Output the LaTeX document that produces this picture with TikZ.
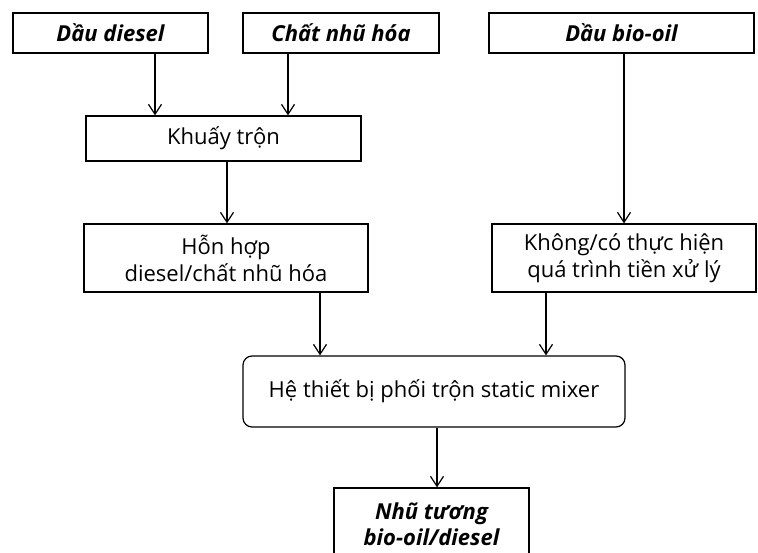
\documentclass[tikz,border=0pt]{standalone}
\usepackage{fontspec}
\setmainfont{Open Sans}
\usetikzlibrary{arrows.meta}
\begin{document}
\begin{tikzpicture}[x=1pt,y=-1pt,
  box/.style={draw,line width=1.2pt,inner sep=0pt,align=center,
    font=\fontsize{22}{27}\selectfont},
  ibox/.style={box,font=\fontsize{22}{26}\selectfont\bfseries\itshape},
  arr/.style={-{Straight Barb[length=10pt,width=13pt]},line width=1.2pt}]
\clip (0,0) rectangle (758,553);
\node[ibox,minimum width=195,minimum height=40] (diesel) at (110.5,33) {Dầu diesel};
\node[ibox,minimum width=196,minimum height=40] (chat) at (341,33) {Chất nhũ hóa};
\node[ibox,minimum width=265,minimum height=40] (bio) at (621.5,33) {Dầu bio-oil};
\node[box,minimum width=275,minimum height=45] (khuay) at (223.5,138.5) {Khuấy trộn};
\node[box,minimum width=284,minimum height=68] (hon) at (226,258) {Hỗn hợp\\diesel/chất nhũ hóa};
\node[box,minimum width=264,minimum height=68] (khong) at (624,258) {Không/có thực hiện\\quá trình tiền xử lý};
\node[box,rounded corners=9pt,minimum width=382,minimum height=71] (mixer) at (434,391.5) {Hệ thiết bị phối trộn static mixer};
\node[ibox,minimum width=195,minimum height=72] (nhu) at (431.5,524) {Nhũ tương\\bio-oil/diesel};
\coordinate (xa) at (155,0);
\coordinate (xb) at (288,0);
\coordinate (xc) at (624,0);
\coordinate (xd) at (227,0);
\coordinate (xe) at (320,0);
\coordinate (xf) at (546,0);
\coordinate (xg) at (437,0);
\draw[arr] (diesel.south -| xa) -- (khuay.north -| xa);
\draw[arr] (chat.south -| xb) -- (khuay.north -| xb);
\draw[arr] (bio.south -| xc) -- (khong.north -| xc);
\draw[arr] (khuay.south -| xd) -- (hon.north -| xd);
\draw[arr] (hon.south -| xe) -- (mixer.north -| xe);
\draw[arr] (khong.south -| xf) -- (mixer.north -| xf);
\draw[arr] (mixer.south -| xg) -- (nhu.north -| xg);
\end{tikzpicture}
\end{document}
